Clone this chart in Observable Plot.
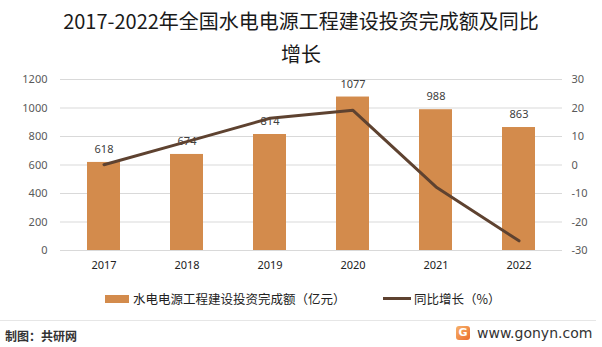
<!DOCTYPE html>
<html><head><meta charset="utf-8">
<script src="https://cdn.jsdelivr.net/npm/d3@7"></script>
<script src="https://cdn.jsdelivr.net/npm/@observablehq/plot@0.6"></script>
<style>
body{margin:0;background:#fff;font-family:"Noto Sans CJK SC","Noto Sans",sans-serif;}
#wrap{position:relative;width:602px;height:347px;overflow:hidden;background:#fff;}
#title{position:absolute;left:0;top:4px;width:602px;text-align:center;font-size:20px;line-height:33px;color:#1a1a1a;}
#chart{position:absolute;left:0;top:0;}
#legend{position:absolute;top:289px;left:0;width:602px;font-size:12.5px;color:#222;}
.lg{position:absolute;display:flex;align-items:center;white-space:nowrap;}
#sep{position:absolute;left:0;top:320px;width:596px;height:1px;background:#e6e6e6;}
#src{position:absolute;left:5px;top:327px;font-size:12px;font-weight:bold;color:#333;}
#site{position:absolute;left:456px;top:325px;display:flex;align-items:center;font-size:14px;color:#333;font-family:"DejaVu Sans",sans-serif;}
#logo{width:14px;height:14px;border-radius:3px;background:linear-gradient(135deg,#f6b26b,#ec6d2c);color:#fff;font-size:11px;font-weight:bold;line-height:14px;text-align:center;margin-right:7px;}
</style></head>
<body><div id="wrap">
<div id="title">2017-2022年全国水电电源工程建设投资完成额及同比<br>增长</div>
<div id="chart"></div>
<div id="legend">
  <div class="lg" style="left:105px;top:0"><span style="display:inline-block;width:24px;height:8px;background:#D38B4C;margin-right:4px"></span>水电电源工程建设投资完成额（亿元）</div>
  <div class="lg" style="left:383px;top:0"><span style="display:inline-block;width:28px;height:3px;background:#5E4230;margin-right:3px"></span>同比增长（%）</div>
</div>
<div id="sep"></div>
<div id="src">制图：共研网</div>
<div id="site"><div id="logo">G</div>www.gonyn.com</div>
</div>
<script>
const years = ["2017","2018","2019","2020","2021","2022"];
const investment = [618, 674, 814, 1077, 988, 863];
const growth = [0.1, 8.2, 16.4, 19.2, -7.7, -26.6];
const leftTicks = [0, 200, 400, 600, 800, 1000, 1200];
const rightTicks = [-30, -20, -10, 0, 10, 20, 30];

const toLeft = v => (v + 30) / 60 * 1200;
const bars = years.map((y, i) => ({year: y, value: investment[i]}));
const line = years.map((y, i) => ({year: y, g: toLeft(growth[i])}));

const plot = Plot.plot({
  width: 602, height: 280,
  marginTop: 79, marginBottom: 30, marginLeft: 60, marginRight: 40,
  x: {domain: years, paddingInner: 0.6, paddingOuter: 0.3, axis: null},
  y: {domain: [0, 1200], axis: null},
  style: {fontFamily: "Noto Sans, sans-serif", fontSize: "11px", background: "transparent"},
  marks: [
    Plot.ruleY(leftTicks, {stroke: "#d9d9d9", strokeWidth: 1}),
    Plot.barY(bars, {x: "year", y: "value", fill: "#D38B4C"}),
    Plot.text(bars, {x: "year", y: "value", text: d => String(d.value), dy: -13, fill: "#404040", fontSize: 11}),
    Plot.line(line, {x: "year", y: "g", stroke: "#5E4230", strokeWidth: 3}),
    Plot.axisY(leftTicks, {anchor: "left", tickSize: 0, tickPadding: 13, color: "#595959", fontSize: 11, tickFormat: d => String(d), label: null}),
    Plot.axisY(rightTicks.map(toLeft), {anchor: "right", tickSize: 0, tickPadding: 9, color: "#595959", fontSize: 11, textAnchor: "start", tickFormat: d => String(Math.round(d / 20 - 30)), label: null}),
    Plot.axisX({anchor: "bottom", tickSize: 0, tickPadding: 11, color: "#222", fontSize: 11, label: null})
  ]
});
document.getElementById("chart").appendChild(plot);
</script>
</body></html>
